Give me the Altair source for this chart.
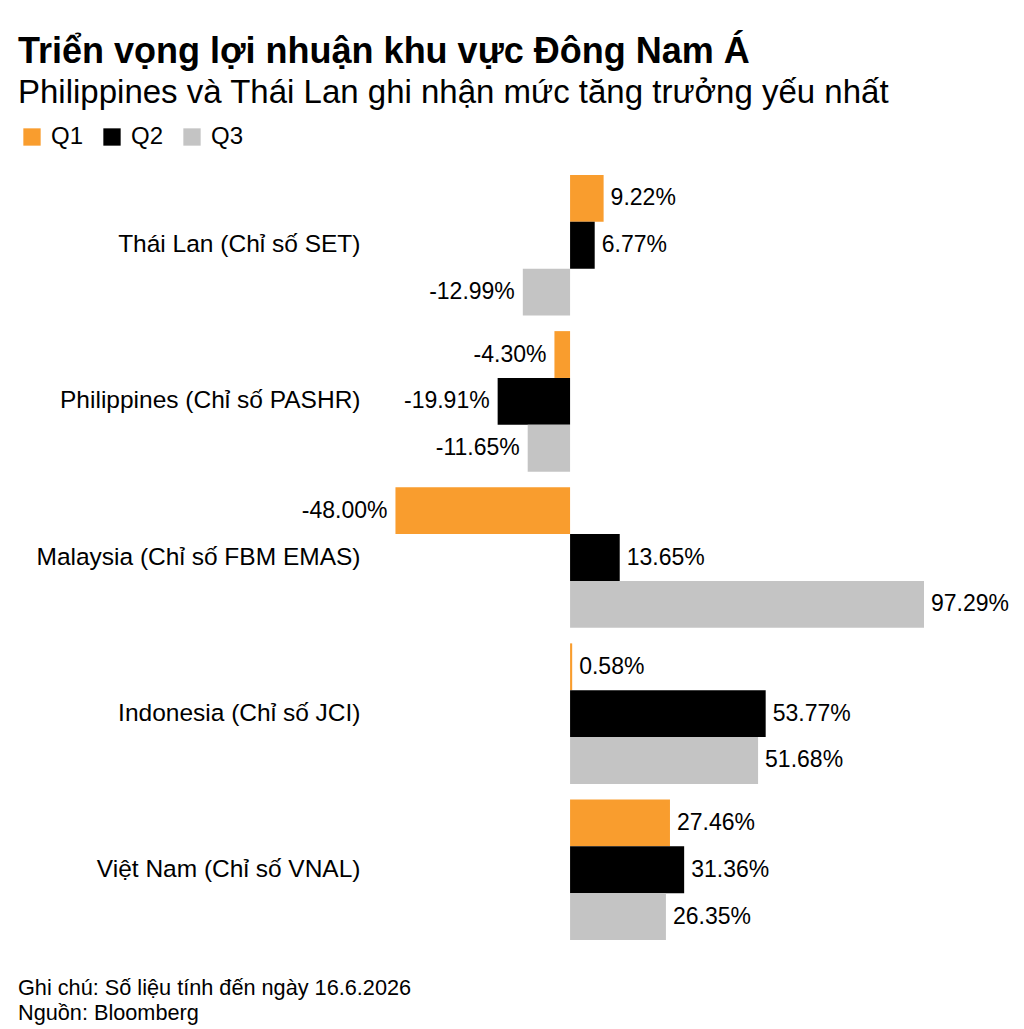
import altair as alt
import pandas as pd

categories = [
    "Thái Lan (Chỉ số SET)",
    "Philippines (Chỉ số PASHR)",
    "Malaysia (Chỉ số FBM EMAS)",
    "Indonesia (Chỉ số JCI)",
    "Việt Nam (Chỉ số VNAL)",
]
series = ["Q1", "Q2", "Q3"]
q1 = [9.22, -4.30, -48.00, 0.58, 27.46]
q2 = [6.77, -19.91, 13.65, 53.77, 31.36]
q3 = [-12.99, -11.65, 97.29, 51.68, 26.35]
colors = ["#F99D2E", "#000000", "#C4C4C4"]

title = "Triển vọng lợi nhuận khu vực Đông Nam Á"
subtitle = "Philippines và Thái Lan ghi nhận mức tăng trưởng yếu nhất"
notes = ["Ghi chú: Số liệu tính đến ngày 16.6.2026", "Nguồn: Bloomberg"]

rows = []
for i, c in enumerate(categories):
    for s, vals in zip(series, [q1, q2, q3]):
        v = vals[i]
        rows.append({"cat": c, "series": s, "value": v, "label": f"{v:.2f}%"})
df = pd.DataFrame(rows)

FONT = "Liberation Sans"
LEFT = 390
W, H = 534, 765

base = alt.Chart(df).encode(
    y=alt.Y("cat:N", sort=categories,
            scale=alt.Scale(paddingInner=0.1, paddingOuter=0),
            axis=alt.Axis(title=None, domain=False, ticks=False, labelPadding=30,
                          labelFontSize=24.5, labelColor="#000", labelFont=FONT,
                          labelLimit=400)),
    yOffset=alt.YOffset("series:N", sort=series, scale=alt.Scale(paddingInner=0, paddingOuter=0)),
)

xscale = alt.Scale(domain=[-49.5, 97.29], nice=False, zero=True)

bars = base.mark_bar().encode(
    x=alt.X("value:Q", scale=xscale, axis=None),
    color=alt.Color("series:N", sort=series,
                    scale=alt.Scale(domain=series, range=colors),
                    legend=alt.Legend(title=None, orient="none", legendX=20 - LEFT, legendY=-50,
                                      direction="horizontal", symbolType="square",
                                      symbolSize=300, symbolStrokeWidth=0,
                                      labelFontSize=24, labelFont=FONT, labelColor="#000",
                                      columnPadding=16, labelOffset=7)),
)

pos = base.mark_text(align="left", baseline="middle", dx=7, fontSize=23, font=FONT,
                     color="#000").encode(
    x=alt.X("value:Q", scale=xscale), text="label:N"
).transform_filter("datum.value >= 0")

neg = base.mark_text(align="right", baseline="middle", dx=-8, fontSize=23, font=FONT,
                     color="#000").encode(
    x=alt.X("value:Q", scale=xscale), text="label:N"
).transform_filter("datum.value < 0")

notes_df = pd.DataFrame({"t": ["\n".join(notes)]})
foot = alt.Chart(notes_df).mark_text(align="left", baseline="top", fontSize=21.7, font=FONT,
                                     color="#000", lineBreak="\n", lineHeight=25).encode(
    text="t:N", x=alt.value(18 - LEFT), y=alt.value(H + 38)
)

chart = alt.layer(bars, pos, neg, foot).properties(
    width=W, height=H,
    title=alt.TitleParams(text=title, subtitle=subtitle, anchor="start", frame="group",
                          dx=18 - LEFT, font=FONT, fontSize=36, fontWeight="bold", color="#000",
                          subtitleFont=FONT, subtitleFontSize=33, subtitleColor="#000",
                          subtitlePadding=6, offset=14),
    autosize=alt.AutoSizeParams(type="none"),
    padding={"left": LEFT, "top": 175, "right": 1024 - LEFT - W, "bottom": 89},
).configure_view(stroke=None)

chart.save("out.html", embed_options={"renderer": "svg", "actions": False})
